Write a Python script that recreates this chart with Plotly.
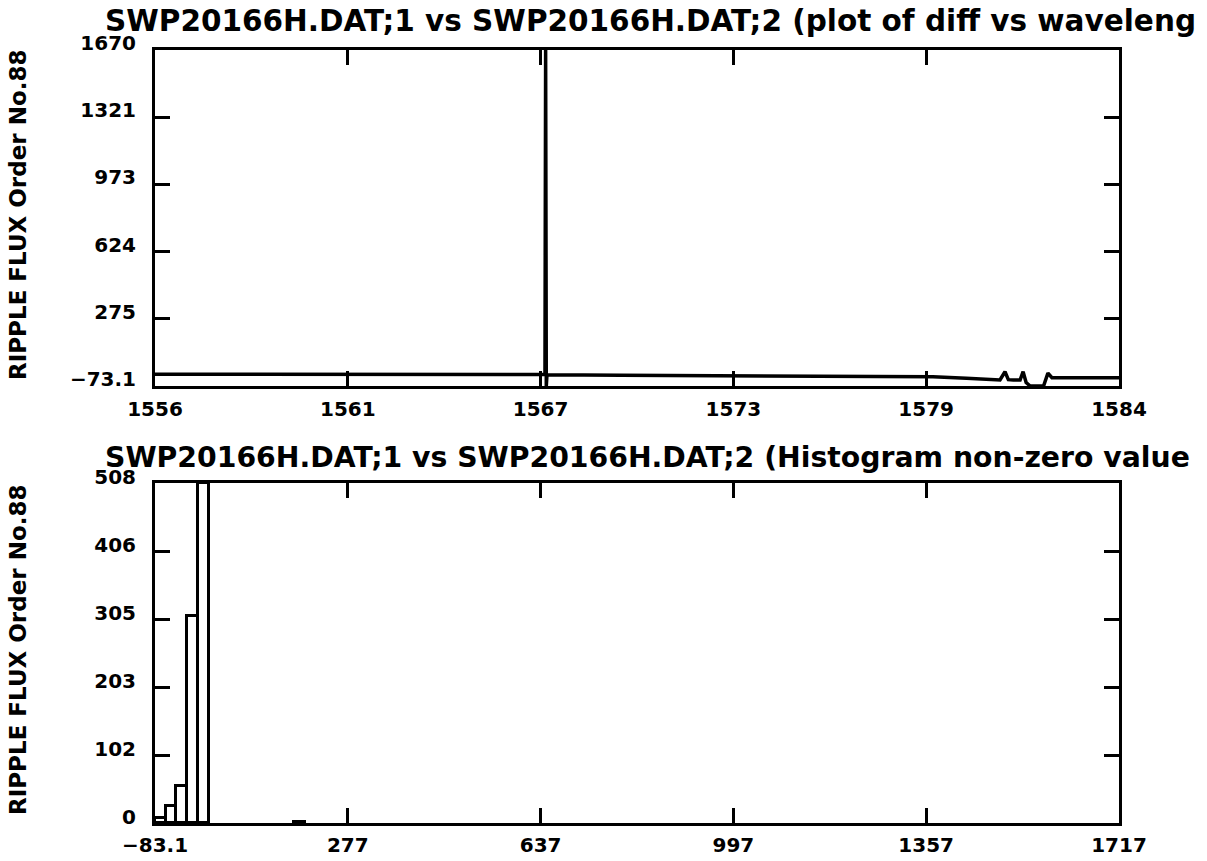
import plotly.graph_objects as go
from plotly.subplots import make_subplots

# ---- top panel: diff vs wavelength ----
wavelength = [1556.1, 1558.0, 1560.0, 1562.0, 1564.0, 1566.0, 1567.73, 1567.75, 1567.77,
              1567.79, 1570.0, 1572.35, 1576.0, 1579.3, 1580.3, 1581.3, 1581.45, 1581.55,
              1581.7, 1581.9, 1581.99, 1582.08, 1582.2, 1582.6, 1582.73, 1582.85, 1583.2,
              1584.85]
diff = [-12, -12, -13, -13, -14, -14, -14, 1670, -73.1,
        -15, -17, -20, -22, -25, -33, -42, 1, -40,
        -42, -42, 1, -55, -73.1, -73.1, -6, -30, -30,
        -30]
top_xrange = [1556.1, 1584.85]
top_yrange = [-73.1, 1670]
top_xtick_labels = ["1556", "1561", "1567", "1573", "1579", "1584"]
top_ytick_labels = ["\u221273.1", "275", "624", "973", "1321", "1670"]

# ---- bottom panel: histogram of non-zero values ----
bin_left = [-83.1, -63.1, -43.1, -23.1, -3.1, 176.9]
bin_count = [8, 26, 56, 310, 508, 1]
bin_width = 20
bot_xrange = [-83.1, 1716.9]
bot_yrange = [0, 508]
bot_xtick_labels = ["\u221283.1", "277", "637", "997", "1357", "1717"]
bot_ytick_labels = ["0", "102", "203", "305", "406", "508"]

title_top = "SWP20166H.DAT;1 vs SWP20166H.DAT;2 (plot of diff vs waveleng"
title_bot = "SWP20166H.DAT;1 vs SWP20166H.DAT;2 (Histogram non-zero value"
ylabel = "RIPPLE FLUX Order No.88"

W, H = 1207, 861
L, R, T, B = 155, 88, 50, 38
ph = H - T - B


def py2paper(py):
    return (H - B - py) / ph


def px2paper(px):
    return (px - L) / (W - L - R)


def even_ticks(lo, hi, n):
    return [lo + (hi - lo) * i / (n - 1) for i in range(n)]


fig = make_subplots(rows=2, cols=1)

fig.add_trace(go.Scatter(x=wavelength, y=diff, mode="lines",
                         line=dict(color="black", width=3.5), showlegend=False),
              row=1, col=1)

centers = [b + bin_width / 2 for b in bin_left]
fig.add_trace(go.Bar(x=centers, y=bin_count, width=[bin_width] * len(bin_left),
                     marker=dict(color="white", line=dict(color="black", width=3)),
                     showlegend=False),
              row=2, col=1)

tickfont = dict(family="DejaVu Sans", size=20, color="black", weight="bold")
axis_common = dict(showline=True, linewidth=3, linecolor="black", mirror="ticks",
                   ticks="inside", ticklen=15, tickwidth=3, tickcolor="black",
                   showgrid=False, zeroline=False, tickfont=tickfont,
                   automargin=False)

fig.update_xaxes(axis_common)
fig.update_yaxes(axis_common)

fig.update_layout(
    width=W, height=H,
    margin=dict(l=L, r=R, t=T, b=B),
    paper_bgcolor="white", plot_bgcolor="white",
    bargap=0, barmode="overlay",
    xaxis=dict(domain=[0, 1], range=top_xrange,
               tickvals=even_ticks(*top_xrange, len(top_xtick_labels)),
               ticktext=top_xtick_labels, ticklabelstandoff=3),
    yaxis=dict(domain=[py2paper(386), 1], range=top_yrange,
               tickvals=even_ticks(*top_yrange, len(top_ytick_labels)),
               ticktext=top_ytick_labels, ticklabelshift=-7, ticklabelstandoff=12),
    xaxis2=dict(domain=[0, 1], range=bot_xrange,
                tickvals=even_ticks(*bot_xrange, len(bot_xtick_labels)),
                ticktext=bot_xtick_labels, ticklabelstandoff=2),
    yaxis2=dict(domain=[0, py2paper(483)], range=bot_yrange,
                tickvals=even_ticks(*bot_yrange, len(bot_ytick_labels)),
                ticktext=bot_ytick_labels, ticklabelshift=-6, ticklabelstandoff=12),
)

titlefont_top = dict(family="DejaVu Sans", size=29.5, color="black", weight="bold")
titlefont_bot = dict(family="DejaVu Sans", size=28.3, color="black", weight="bold")
labelfont = dict(family="DejaVu Sans", size=23, color="black", weight="bold")
fig.add_annotation(text=title_top, xref="paper", yref="paper", x=px2paper(103),
                   y=py2paper(21), xanchor="left", yanchor="middle",
                   showarrow=False, font=titlefont_top)
fig.add_annotation(text=title_bot, xref="paper", yref="paper", x=px2paper(103),
                   y=py2paper(457), xanchor="left", yanchor="middle",
                   showarrow=False, font=titlefont_bot)
fig.add_annotation(text=ylabel, xref="paper", yref="paper", x=px2paper(18),
                   y=py2paper(215), xanchor="center", yanchor="middle",
                   textangle=-90, showarrow=False, font=labelfont)
fig.add_annotation(text=ylabel, xref="paper", yref="paper", x=px2paper(18),
                   y=py2paper(650), xanchor="center", yanchor="middle",
                   textangle=-90, showarrow=False, font=labelfont)

fig.write_html("out.html")
